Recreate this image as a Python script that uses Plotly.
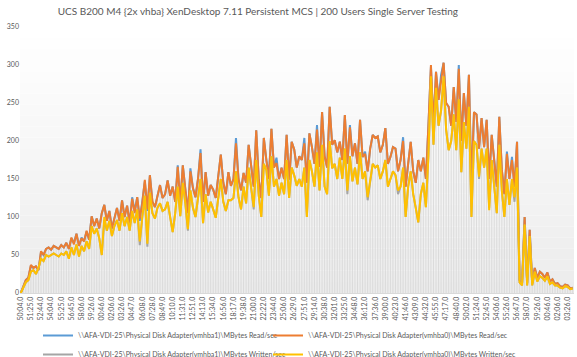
import plotly.graph_objects as go
import numpy as np

tick_labels = ["50:04.0","51:25.0","52:44.0","54:04.0","55:25.0","56:45.0","58:06.0","59:26.0",
               "00:46.0","02:06.0","03:26.0","04:47.0","06:08.0","07:28.0","08:49.0","10:10.0",
               "11:31.0","12:51.0","14:13.0","15:34.0","16:56.0","18:17.0","19:38.0","21:00.0",
               "22:22.0","23:44.0","25:06.0","26:29.0","27:51.0","29:14.0","30:38.0","32:01.0",
               "33:25.0","34:48.0","36:12.0","37:36.0","39:00.0","40:23.0","41:46.0","43:09.0",
               "44:32.0","45:55.0","47:17.0","48:40.0","50:02.0","51:24.0","52:45.0","54:06.0",
               "55:26.0","56:47.0","58:07.0","59:26.0","00:46.0","02:06.0","03:26.0"]

read_vmhba0 = [
 0,10,17,20,37,33,35,30,55,50,58,60,57,62,60,58,63,60,66,58,73,64,78,62,72,68,82,70,
 101,88,98,85,105,116,95,108,85,100,112,95,122,100,115,92,124,105,126,98,118,149,110,155,120,113,128,142,125,
 130,148,128,140,120,166,118,168,140,105,160,138,126,150,184,120,159,128,142,136,125,150,182,145,130,159,141,150,197,150,
 135,158,145,195,170,140,214,149,125,204,175,150,216,165,171,150,165,150,208,149,199,189,165,180,
 175,197,145,210,192,170,215,166,238,180,165,245,195,201,185,199,175,234,170,218,180,197,170,228,179,183,160,190,208,204,
 206,185,195,217,170,179,192,190,160,175,200,140,170,199,160,145,175,160,178,150,220,300,
 220,291,254,280,303,250,245,220,271,225,295,200,263,220,287,140,238,235,190,230,192,228,150,208,175,140,232,162,130,183,
 150,175,140,199,17,13,100,13,83,13,33,20,28,25,20,27,15,18,12,13,9,8,11,10,6,7]

read_vmhba1 = [
 0,10,17,20,36,33,35,30,54,50,58,60,57,62,60,58,63,60,66,58,72,66,78,62,73,68,81,70,
 101,88,98,85,105,116,95,108,85,100,112,95,122,100,115,92,126,108,126,95,118,147,108,155,120,113,128,142,125,
 130,148,128,140,120,168,118,168,140,105,164,138,126,150,189,120,159,128,142,136,125,150,182,145,130,159,141,150,204,150,
 135,158,145,195,170,140,214,149,125,204,175,155,216,165,178,150,165,150,208,149,199,189,165,180,
 175,204,145,210,192,170,221,166,238,180,165,245,195,201,185,199,175,234,170,221,180,197,170,228,179,186,160,190,208,204,
 206,185,195,217,170,179,192,190,160,175,205,140,170,199,160,145,175,160,178,150,220,298,
 220,291,254,287,303,250,245,220,271,225,300,200,263,220,287,140,238,235,190,230,192,228,150,208,175,140,232,162,130,186,
 150,179,140,199,17,13,100,13,83,13,33,20,28,25,20,27,15,18,12,13,9,8,11,10,6,7]

written_vmhba1 = [
 0,8,14,17,28,30,25,33,45,42,50,48,50,52,50,48,52,50,55,45,60,50,64,48,62,55,68,58,
 88,78,85,72,50,96,82,95,75,88,96,82,105,88,100,82,108,92,110,63,100,128,61,132,105,98,112,118,108,
 110,120,100,80,105,140,101,145,118,82,135,112,100,122,150,92,130,106,120,110,99,125,150,120,108,122,122,125,160,126,
 110,140,118,165,140,110,175,128,100,170,162,128,180,140,150,128,145,130,175,125,165,155,141,150,
 140,165,100,175,160,140,185,135,195,140,130,200,164,170,150,178,150,190,130,180,147,165,143,185,150,160,122,150,170,165,
 168,150,160,175,140,150,160,155,130,140,165,100,140,160,130,112,93,130,145,113,180,282,
 195,268,220,240,283,215,188,200,235,188,255,159,225,190,245,100,200,195,150,190,165,190,112,175,140,105,195,135,100,150,
 116,150,120,165,14,10,90,10,75,10,28,15,22,20,16,22,12,14,10,10,7,6,9,8,5,6]

written_vmhba0 = [
 0,8,14,17,28,30,25,33,45,42,50,48,50,52,50,48,52,50,55,45,60,50,64,48,62,55,68,58,
 88,78,85,72,50,100,82,95,75,88,96,82,105,88,100,82,108,92,110,68,100,128,65,132,105,98,112,118,108,
 110,120,100,80,105,140,101,145,118,84,135,112,100,122,150,92,130,106,120,110,99,125,150,120,108,122,122,125,160,126,
 110,140,118,165,140,113,175,128,100,170,162,128,180,140,150,128,145,130,175,125,165,155,141,150,
 140,165,100,175,160,140,185,135,195,140,130,200,164,170,150,178,150,190,135,180,147,165,143,185,150,160,126,150,170,165,
 168,150,160,175,140,150,160,155,135,140,165,100,140,160,130,112,93,130,145,113,180,285,
 195,270,220,240,285,215,188,200,235,188,255,159,225,190,245,100,200,195,153,190,165,190,109,175,140,105,195,135,100,150,
 116,150,126,165,14,10,90,10,75,10,28,15,22,20,16,22,12,14,10,10,7,6,9,8,5,6]

series_names = [
    r"\\AFA-VDI-25\Physical Disk Adapter(vmhba1)\MBytes Read/sec",
    r"\\AFA-VDI-25\Physical Disk Adapter(vmhba0)\MBytes Read/sec",
    r"\\AFA-VDI-25\Physical Disk Adapter(vmhba1)\MBytes Written/sec",
    r"\\AFA-VDI-25\Physical Disk Adapter(vmhba0)\MBytes Written/sec",
]
series_values = [read_vmhba1, read_vmhba0, written_vmhba1, written_vmhba0]
series_colors = ["#5B9BD5", "#ED7D31", "#A5A5A5", "#FFC000"]
series_legend = ["legend", "legend2", "legend", "legend2"]

n = len(read_vmhba0)
xs = list(range(n))
tick_vals = list(range(0, 4 * len(tick_labels), 4))

fig = go.Figure()

# drop lines (from axis up to the highest series at each category)
top = np.max(np.array(series_values, dtype=float), axis=0)
dx, dy = [], []
for i in xs:
    dx += [i, i, None]
    dy += [0, top[i], None]
fig.add_trace(go.Scatter(x=dx, y=dy, mode="lines", line=dict(color="#d6d6d6", width=0.8),
                         showlegend=False, hoverinfo="skip"))

for name, vals, col, lg in zip(series_names, series_values, series_colors, series_legend):
    fig.add_trace(go.Scatter(x=xs, y=vals, mode="lines", name=name, legend=lg,
                             line=dict(color=col, width=2)))

# plot-area gradient (white at top to light gray at bottom)
shapes = []
steps = 24
for k in range(steps):
    g = int(round(236 + (255 - 236) * (k / (steps - 1))))
    shapes.append(dict(type="rect", xref="x domain", yref="y domain",
                       x0=0, x1=1, y0=k / steps, y1=(k + 1) / steps,
                       fillcolor=f"rgb({g},{g},{g})", line=dict(width=0), layer="below"))

legend_common = dict(orientation="v", yref="container", xref="container",
                     yanchor="top", y=1 - 321 / 357, xanchor="left",
                     itemwidth=30, font=dict(size=7, color="#595959"),
                     bgcolor="rgba(0,0,0,0)", tracegroupgap=0)

fig.update_layout(
    width=577, height=357,
    margin=dict(l=20, r=3, t=27, b=64, autoexpand=False),
    paper_bgcolor="white", plot_bgcolor="white",
    shapes=shapes,
    title=dict(text="UCS B200 M4 {2x vhba} XenDesktop 7.11 Persistent MCS | 200 Users Single Server Testing",
               x=0.1, xanchor="left", y=0.968, yanchor="middle",
               font=dict(family="Lato", size=10, color="#595959")),
    font=dict(family="Lato", color="#595959"),
    legend=dict(x=38 / 577, **legend_common),
    legend2=dict(x=268 / 577, **legend_common),
    showlegend=True,
)
fig.update_xaxes(range=[-0.3, n - 0.5], tickmode="array", tickvals=tick_vals, ticktext=tick_labels,
                 tickangle=-90, tickfont=dict(size=7, color="#595959"), showgrid=False,
                 showline=True, linecolor="#d9d9d9", linewidth=1, zeroline=False, ticks="")
fig.update_yaxes(range=[0, 350], dtick=50, tickfont=dict(size=7, color="#595959"), showgrid=False,
                 zeroline=False, showline=False, ticks="")

fig.write_html("out.html", config={"displayModeBar": False},
               post_script="document.body.style.margin='0px';")
